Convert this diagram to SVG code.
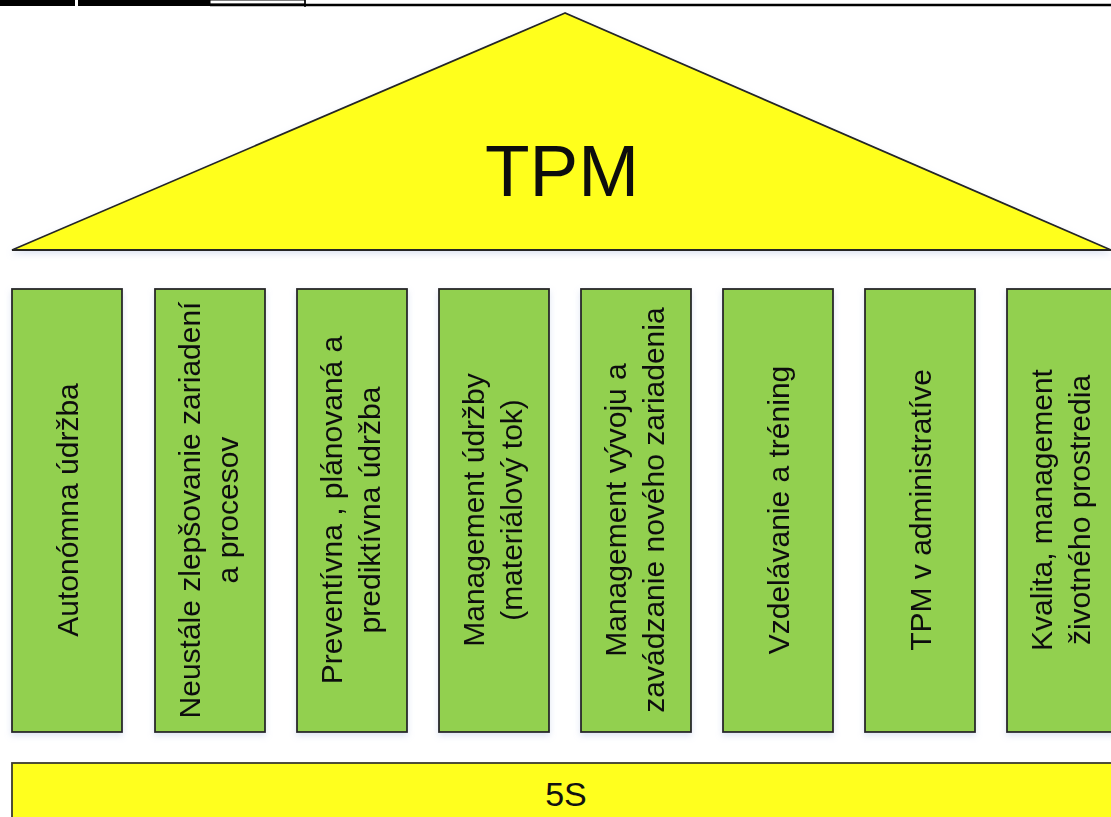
<svg xmlns="http://www.w3.org/2000/svg" width="1111" height="817" viewBox="0 0 1111 817">
  <defs>
    <style>
      .roof { fill: #ffff1e; stroke: #262626; stroke-width: 1.8; stroke-linejoin: miter; }
      .pillar { fill: #92d050; stroke: #262626; stroke-width: 1.8; }
      .base { fill: #ffff1e; stroke: #3b3b30; stroke-width: 1.8; }
      .lbl { font-family: "Liberation Sans", Arial, sans-serif; fill: #111; text-anchor: middle; }
      .pl { font-size: 30px; }
    </style>
    <filter id="shadow" x="-10%" y="-10%" width="120%" height="130%">
      <feDropShadow dx="0" dy="3" stdDeviation="3" flood-color="#9fb4dd" flood-opacity="0.35"/>
    </filter>
  </defs>

  <rect width="1111" height="817" fill="#ffffff"/>

  <!-- header strip along the top edge -->
  <g id="header">
    <rect x="0" y="0" width="75" height="6" fill="#000"/>
    <rect x="78" y="0" width="132" height="6" fill="#000"/>
    <rect x="210" y="0" width="95" height="4" fill="#fff" stroke="#000" stroke-width="1"/>
    <line x1="305" y1="0" x2="305" y2="7" stroke="#000" stroke-width="1.5"/>
    <line x1="210" y1="5" x2="1111" y2="5" stroke="#000" stroke-width="2.5"/>
  </g>

  <!-- roof -->
  <g id="roof" filter="url(#shadow)">
    <polygon class="roof" points="565,13 12,250 1111,250"/>
    <text class="lbl" x="562" y="196" font-size="73">TPM</text>
  </g>

  <!-- pillars -->
  <g id="pillar1" filter="url(#shadow)">
    <rect class="pillar" x="12" y="289" width="110" height="443"/>
    <g transform="translate(67,510) rotate(-90)">
      <text class="lbl pl" x="0" y="11">Autonómna údržba</text>
    </g>
  </g>
  <g id="pillar2" filter="url(#shadow)">
    <rect class="pillar" x="155" y="289" width="110" height="443"/>
    <g transform="translate(210,510) rotate(-90)">
      <text class="lbl pl" x="0" y="-10">Neustále zlepšovanie zariadení</text>
      <text class="lbl pl" x="0" y="28">a procesov</text>
    </g>
  </g>
  <g id="pillar3" filter="url(#shadow)">
    <rect class="pillar" x="297" y="289" width="110" height="443"/>
    <g transform="translate(352,510) rotate(-90)">
      <text class="lbl pl" x="0" y="-10">Preventívna , plánovaná a</text>
      <text class="lbl pl" x="0" y="28">prediktívna údržba</text>
    </g>
  </g>
  <g id="pillar4" filter="url(#shadow)">
    <rect class="pillar" x="439" y="289" width="110" height="443"/>
    <g transform="translate(494,510) rotate(-90)">
      <text class="lbl pl" x="0" y="-10">Management údržby</text>
      <text class="lbl pl" x="0" y="28">(materiálový tok)</text>
    </g>
  </g>
  <g id="pillar5" filter="url(#shadow)">
    <rect class="pillar" x="581" y="289" width="110" height="443"/>
    <g transform="translate(636,510) rotate(-90)">
      <text class="lbl pl" x="0" y="-10">Management vývoju a</text>
      <text class="lbl pl" x="0" y="28">zavádzanie nového zariadenia</text>
    </g>
  </g>
  <g id="pillar6" filter="url(#shadow)">
    <rect class="pillar" x="723" y="289" width="110" height="443"/>
    <g transform="translate(778,510) rotate(-90)">
      <text class="lbl pl" x="0" y="11">Vzdelávanie a tréning</text>
    </g>
  </g>
  <g id="pillar7" filter="url(#shadow)">
    <rect class="pillar" x="865" y="289" width="110" height="443"/>
    <g transform="translate(920,510) rotate(-90)">
      <text class="lbl pl" x="0" y="11">TPM v administratíve</text>
    </g>
  </g>
  <g id="pillar8" filter="url(#shadow)">
    <rect class="pillar" x="1007" y="289" width="110" height="443"/>
    <g transform="translate(1062,510) rotate(-90)">
      <text class="lbl pl" x="0" y="-10">Kvalita, management</text>
      <text class="lbl pl" x="0" y="28">životného prostredia</text>
    </g>
  </g>

  <!-- foundation -->
  <g id="foundation">
    <rect class="base" x="12" y="763" width="1110" height="70"/>
    <text class="lbl" x="566" y="806" font-size="34">5S</text>
  </g>

  <g id="connectors"/>
</svg>
